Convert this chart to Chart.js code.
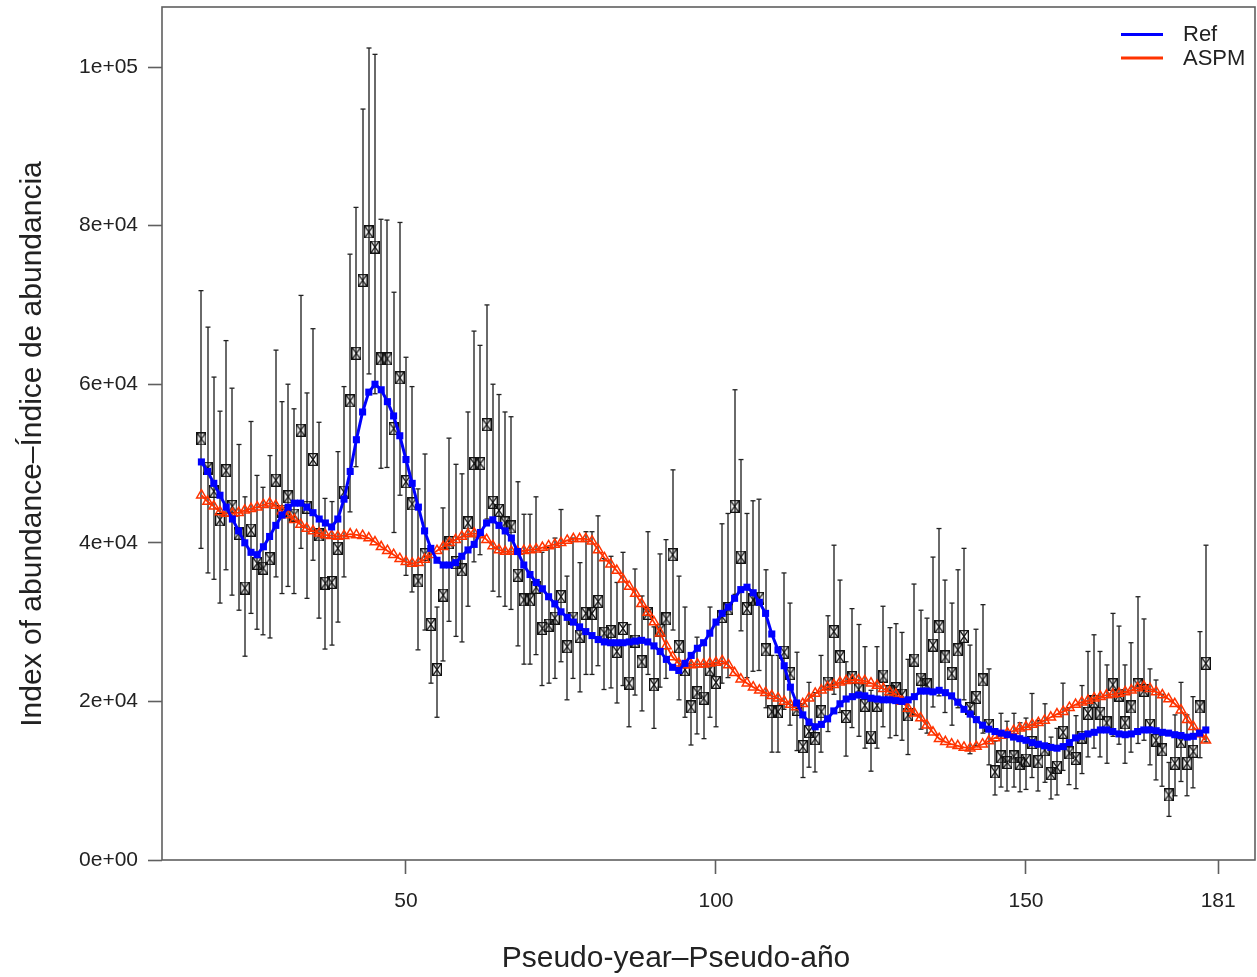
<!DOCTYPE html>
<html>
<head>
<meta charset="utf-8">
<script src="https://cdn.jsdelivr.net/npm/chart.js@4.4.0/dist/chart.umd.min.js"></script>
<style>
  html, body { margin: 0; padding: 0; background: #fff; overflow: hidden; }
  #chart { display: block; }
</style>
</head>
<body>
<canvas id="chart" width="1257" height="977"></canvas>
<script>
// values in thousands
const years = [
  17, 18, 19, 20, 21, 22, 23, 24, 25, 26,
  27, 28, 29, 30, 31, 32, 33, 34, 35, 36,
  37, 38, 39, 40, 41, 42, 43, 44, 45, 46,
  47, 48, 49, 50, 51, 52, 53, 54, 55, 56,
  57, 58, 59, 60, 61, 62, 63, 64, 65, 66,
  67, 68, 69, 70, 71, 72, 73, 74, 75, 76,
  77, 78, 79, 80, 81, 82, 83, 84, 85, 86,
  87, 88, 89, 90, 91, 92, 93, 94, 95, 96,
  97, 98, 99, 100, 101, 102, 103, 104, 105, 106,
  107, 108, 109, 110, 111, 112, 113, 114, 115, 116,
  117, 118, 119, 120, 121, 122, 123, 124, 125, 126,
  127, 128, 129, 130, 131, 132, 133, 134, 135, 136,
  137, 138, 139, 140, 141, 142, 143, 144, 145, 146,
  147, 148, 149, 150, 151, 152, 153, 154, 155, 156,
  157, 158, 159, 160, 161, 162, 163, 164, 165, 166,
  167, 168, 169, 170, 171, 172, 173, 174, 175, 176,
  177, 178, 179
];

const obs = [
  53.1, 49.4, 46.5, 42.9, 49.1, 44.6, 41.2, 34.3, 41.6, 37.4,
  36.8, 38.0, 47.9, 44.0, 45.8, 43.5, 54.2, 44.5, 50.5, 41.0,
  34.9, 35.0, 39.3, 46.4, 57.9, 63.9, 73.1, 79.2, 77.3, 63.2,
  63.2, 54.4, 60.8, 47.7, 44.9, 35.2, 38.5, 29.7, 24.0, 33.4,
  40.0, 37.5, 36.6, 42.5, 50.0, 50.0, 54.9, 45.1, 44.1, 42.5,
  42.0, 35.9, 32.8, 32.8, 34.4, 29.2, 29.6, 30.5, 33.2, 26.9,
  30.5, 28.2, 31.1, 31.1, 32.6, 28.6, 28.8, 26.3, 29.2, 22.3,
  27.6, 25.0, 31.1, 22.1, 29.0, 30.4, 38.5, 26.9, 24.0, 19.3,
  21.1, 20.4, 24.0, 22.4, 30.7, 31.7, 44.6, 38.2, 31.7, 32.8,
  33.0, 26.5, 18.7, 18.7, 26.2, 23.5, 19.0, 14.3, 16.2, 15.3,
  18.7, 22.3, 28.8, 25.6, 18.1, 23.0, 21.5, 19.5, 15.5, 19.5,
  23.2, 21.2, 21.6, 20.8, 18.3, 25.2, 22.8, 22.1, 27.1, 29.4,
  25.6, 23.5, 26.5, 28.2, 19.1, 20.5, 22.7, 17.0, 11.1, 13.0,
  12.3, 13.0, 12.2, 12.6, 14.8, 12.4, 13.9, 10.9, 11.7, 16.1,
  13.5, 12.8, 15.5, 18.5, 20.0, 18.5, 17.3, 22.1, 20.8, 17.3,
  19.3, 22.1, 21.4, 17.0, 15.1, 13.9, 8.2, 12.2, 14.9, 12.2,
  13.7, 19.3, 24.8
];

const obsHi = [
  71.8, 67.2, 60.9, 56.6, 65.5, 59.5, 52.4, 45.8, 55.3, 48.5,
  47.0, 51.0, 64.3, 57.8, 60.0, 56.9, 71.2, 58.9, 67.0, 55.2,
  45.6, 45.2, 51.5, 59.7, 76.4, 82.3, 94.7, 102.4, 101.6, 80.8,
  80.7, 71.6, 80.4, 63.4, 59.7, 46.8, 51.2, 39.5, 31.9, 44.4,
  53.2, 49.9, 48.7, 56.5, 66.7, 64.9, 70.0, 60.0, 58.7, 56.5,
  55.9, 47.7, 43.6, 43.6, 45.8, 38.8, 39.4, 40.6, 44.2, 35.8,
  40.6, 37.5, 41.4, 41.4, 43.4, 38.0, 38.3, 35.0, 38.8, 29.7,
  36.7, 33.3, 41.4, 29.4, 38.6, 40.4, 49.2, 35.8, 31.9, 25.7,
  28.1, 27.1, 31.9, 29.8, 42.4, 43.7, 59.3, 50.5, 43.7, 45.3,
  45.5, 36.6, 25.8, 25.8, 36.2, 32.4, 26.2, 19.7, 22.4, 21.1,
  25.8, 30.8, 39.7, 35.3, 25.0, 31.7, 29.7, 26.9, 21.4, 26.9,
  32.0, 29.3, 29.8, 28.7, 25.3, 34.8, 31.5, 30.5, 38.2, 41.8,
  35.3, 32.4, 36.6, 39.3, 27.1, 29.1, 32.2, 24.1, 15.0, 18.5,
  17.5, 18.5, 17.3, 17.9, 21.0, 17.6, 19.7, 15.5, 16.6, 22.3,
  19.2, 18.2, 22.0, 26.3, 28.4, 26.3, 24.6, 31.1, 29.5, 24.6,
  27.4, 33.2, 30.4, 24.1, 22.7, 20.9, 12.3, 18.3, 22.4, 18.3,
  20.6, 28.8, 39.7
];

const obsLo = [
  39.3, 36.2, 35.4, 32.4, 36.6, 33.4, 31.5, 25.7, 31.1, 29.1,
  28.4, 28.0, 35.7, 33.6, 34.5, 33.6, 39.3, 33.0, 37.8, 30.5,
  26.6, 27.1, 30.0, 35.7, 43.9, 49.6, 56.4, 61.3, 58.8, 49.4,
  49.5, 41.3, 46.0, 35.9, 33.8, 26.5, 29.0, 22.3, 18.0, 25.1,
  30.1, 28.2, 27.5, 32.0, 37.6, 38.5, 43.0, 33.9, 33.2, 32.0,
  31.6, 27.0, 24.7, 24.7, 25.9, 22.0, 22.3, 22.9, 25.0, 20.2,
  22.9, 21.2, 23.4, 23.4, 24.5, 21.5, 21.7, 19.8, 22.0, 16.8,
  20.8, 18.8, 23.4, 16.6, 21.8, 22.9, 29.0, 20.2, 18.0, 14.5,
  15.9, 15.3, 18.0, 16.8, 22.3, 23.0, 33.5, 28.9, 23.0, 23.8,
  23.9, 19.2, 13.6, 13.6, 19.0, 17.0, 13.8, 10.4, 11.7, 11.1,
  13.6, 16.2, 20.9, 18.6, 13.1, 16.7, 15.6, 14.1, 11.2, 14.1,
  16.8, 15.4, 15.7, 15.1, 13.3, 18.3, 16.5, 16.0, 19.3, 20.7,
  18.6, 17.0, 19.2, 20.2, 13.4, 14.4, 16.0, 12.0, 8.2, 9.2,
  8.7, 9.2, 8.6, 8.9, 10.4, 8.7, 9.8, 7.7, 8.2, 11.3,
  9.5, 9.0, 10.9, 13.0, 14.1, 13.0, 12.2, 15.6, 14.6, 12.2,
  13.6, 14.7, 15.1, 12.0, 10.1, 9.3, 5.5, 8.1, 9.9, 8.1,
  9.1, 12.9, 14.9
];

const refFit = [
  50.2, 49.0, 47.5, 46.0, 44.5, 43.0, 41.5, 40.0, 38.8, 38.5,
  39.5, 40.8, 42.2, 43.5, 44.5, 45.0, 45.0, 44.5, 43.8, 43.0,
  42.5, 42.0, 43.0, 45.5, 49.0, 53.0, 56.5, 59.0, 60.0, 59.3,
  57.8, 56.0, 53.5, 50.5, 47.5, 44.5, 41.5, 39.3, 37.8, 37.2,
  37.2, 37.5, 38.3, 39.1, 39.8, 41.3, 42.5, 42.9, 42.2, 41.5,
  40.6, 38.9, 37.2, 36.0, 35.0, 34.2, 33.2, 32.3, 31.3, 30.6,
  30.0, 29.4, 28.8, 28.3, 27.8, 27.5, 27.4, 27.4, 27.4, 27.5,
  27.6, 27.7, 27.5, 27.0, 26.3, 25.3, 24.3, 23.9, 24.8, 25.8,
  26.7, 27.4, 28.6, 30.0, 31.1, 31.9, 33.0, 34.1, 34.4, 33.7,
  32.5, 31.1, 28.5, 26.5, 24.5, 21.8, 19.8, 18.3, 17.4, 16.8,
  17.1, 17.8, 18.8, 19.7, 20.3, 20.6, 20.8, 20.7, 20.4, 20.3,
  20.2, 20.2, 20.1, 20.0, 20.2, 20.6, 21.3, 21.3, 21.2, 21.4,
  21.1, 20.7, 19.9, 19.0, 18.4, 17.7, 17.0, 16.5, 16.2, 16.0,
  15.8, 15.5, 15.3, 15.1, 14.8, 14.6, 14.4, 14.2, 14.1, 14.3,
  14.8, 15.4, 15.6, 15.9, 16.1, 16.4, 16.4, 16.2, 15.9, 15.8,
  15.9, 16.2, 16.4, 16.4, 16.3, 16.1, 16.0, 15.8, 15.7, 15.5,
  15.6, 16.0, 16.4
];

const aspmFit = [
  46.0, 45.2, 44.6, 43.9, 43.7, 43.7, 43.8, 44.1, 44.3, 44.5,
  44.8, 45.0, 44.7, 44.0, 43.5, 42.9, 42.3, 41.8, 41.5, 41.2,
  41.0, 40.9, 40.8, 40.9, 41.1, 41.0, 40.9, 40.6, 40.1, 39.5,
  39.0, 38.5, 38.0, 37.6, 37.4, 37.5, 37.9, 38.5, 39.0, 39.5,
  40.0, 40.4, 40.8, 41.1, 41.2, 41.0, 40.4, 39.6, 39.1, 38.9,
  38.9, 38.9, 39.0, 39.1, 39.2, 39.4, 39.6, 39.8, 40.0, 40.3,
  40.5, 40.5, 40.5, 40.2, 39.1, 38.1, 37.3, 36.5, 35.4, 34.5,
  33.6, 32.3, 31.2, 30.0, 28.6, 27.0, 25.6, 24.8, 24.6, 24.6,
  24.7, 24.7, 24.8, 24.9, 25.1, 24.6, 23.6, 22.8, 22.3, 21.8,
  21.4, 21.1, 20.7, 20.4, 20.0, 19.6, 19.3, 19.7, 20.4, 21.0,
  21.4, 21.8, 22.1, 22.4, 22.6, 22.7, 22.7, 22.6, 22.3, 22.0,
  21.6, 21.2, 20.9, 20.0, 19.1, 18.5, 17.9, 17.0, 16.1, 15.3,
  14.9, 14.6, 14.4, 14.2, 14.1, 14.3, 14.6, 15.0, 15.4, 15.7,
  16.0, 16.3, 16.6, 16.8, 17.1, 17.3, 17.6, 18.0, 18.4, 18.7,
  19.2, 19.6, 19.9, 20.1, 20.4, 20.6, 20.8, 20.9, 21.0, 21.2,
  21.4, 21.7, 21.9, 21.6, 21.2, 20.8, 20.3, 19.7, 18.9, 17.7,
  16.8, 15.9, 15.1
];

const xTicks = [50, 100, 150, 181];
const yTicks = [0, 20, 40, 60, 80, 100];
const yTickLabels = ['0e+00', '2e+04', '4e+04', '6e+04', '8e+04', '1e+05'];

const FONT = "'Liberation Sans', Arial, Helvetica, sans-serif";
const AXIS_GREY = '#5f5f5f';

// box with a cross inside, like R's pch 7
const boxMark = (() => {
  const w = 10, h = 13;
  const c = document.createElement('canvas');
  c.width = w; c.height = h;
  const g = c.getContext('2d');
  g.strokeStyle = '#111';
  g.lineWidth = 1.3;
  g.strokeRect(0.65, 0.65, w - 1.3, h - 1.3);
  g.beginPath();
  g.moveTo(1.2, 1.2); g.lineTo(w - 1.2, h - 1.2);
  g.moveTo(w - 1.2, 1.2); g.lineTo(1.2, h - 1.2);
  g.stroke();
  return c;
})();

const pts = (vals) => years.map((yr, i) => ({ x: yr, y: vals[i] }));

// vertical interval for each observation
const errorBars = {
  id: 'errorBars',
  beforeDatasetsDraw(chart) {
    const { ctx, scales: { x, y } } = chart;
    ctx.save();
    ctx.strokeStyle = '#6a6a6a';
    ctx.lineWidth = 2;
    years.forEach((yr, i) => {
      const px = Math.round(x.getPixelForValue(yr));
      const top = y.getPixelForValue(obsHi[i]);
      const bot = y.getPixelForValue(obsLo[i]);
      ctx.beginPath();
      ctx.moveTo(px, top);
      ctx.lineTo(px, bot);
      ctx.stroke();
    });
    ctx.strokeStyle = '#222';
    ctx.lineWidth = 1.3;
    years.forEach((yr, i) => {
      const px = Math.round(x.getPixelForValue(yr));
      [obsHi[i], obsLo[i]].forEach(v => {
        const py = y.getPixelForValue(v);
        ctx.beginPath();
        ctx.moveTo(px - 2.5, py);
        ctx.lineTo(px + 2.5, py);
        ctx.stroke();
      });
    });
    ctx.restore();
  }
};

// plot frame, legend and axis titles
const decorations = {
  id: 'decorations',
  afterDraw(chart) {
    const { ctx, chartArea: a } = chart;
    ctx.save();
    ctx.strokeStyle = AXIS_GREY;
    ctx.lineWidth = 1.6;
    ctx.strokeRect(a.left, a.top, a.right - a.left, a.bottom - a.top);

    // legend
    ctx.lineWidth = 3;
    ctx.strokeStyle = '#0000ff';
    ctx.beginPath(); ctx.moveTo(1121, 34.5); ctx.lineTo(1163, 34.5); ctx.stroke();
    ctx.strokeStyle = '#ff3300';
    ctx.beginPath(); ctx.moveTo(1121, 58); ctx.lineTo(1163, 58); ctx.stroke();
    ctx.fillStyle = '#222';
    ctx.font = '22px ' + FONT;
    ctx.textBaseline = 'middle';
    ctx.textAlign = 'left';
    ctx.fillText('Ref', 1183, 35);
    ctx.fillText('ASPM', 1183, 59);

    // axis titles
    ctx.font = '30px ' + FONT;
    ctx.textAlign = 'center';
    ctx.fillText('Pseudo-year\u2013Pseudo-a\u00f1o', 676, 959);
    ctx.translate(33, 444);
    ctx.rotate(-Math.PI / 2);
    ctx.fillText('Index of abundance\u2013\u00cdndice de abundancia', 0, 0);
    ctx.restore();
  }
};

new Chart(document.getElementById('chart'), {
  type: 'scatter',
  data: {
    datasets: [
      {
        label: 'Ref',
        data: pts(refFit),
        showLine: true,
        borderColor: '#0000ff',
        backgroundColor: '#0000ff',
        borderWidth: 3,
        pointStyle: 'rect',
        pointRadius: 5,
        pointBorderWidth: 0,
        order: 0
      },
      {
        label: 'ASPM',
        data: pts(aspmFit),
        showLine: true,
        borderColor: '#ff3300',
        backgroundColor: 'rgba(0,0,0,0)',
        borderWidth: 1.8,
        pointStyle: 'triangle',
        pointRadius: 5.5,
        pointBorderColor: '#ff3300',
        pointBorderWidth: 1.5,
        order: 1
      },
      {
        label: 'Observed',
        data: pts(obs),
        showLine: false,
        pointStyle: boxMark,
        pointRadius: 5,
        order: 2
      }
    ]
  },
  options: {
    responsive: false,
    animation: false,
    devicePixelRatio: 1,
    layout: { autoPadding: false, padding: { top: 7, right: 2, bottom: 0, left: 0 } },
    plugins: {
      legend: { display: false },
      tooltip: { enabled: false }
    },
    scales: {
      x: {
        type: 'linear',
        min: 10.645,
        max: 186.94,
        afterBuildTicks: (scale) => { scale.ticks = xTicks.map(v => ({ value: v })); },
        afterFit: (scale) => {
          scale.height = 117;
          scale.paddingLeft = 0;
          scale.paddingRight = 0;
        },
        border: { display: false },
        grid: {
          display: true,
          drawOnChartArea: false,
          drawTicks: true,
          tickLength: 14,
          tickColor: AXIS_GREY,
          tickWidth: 1.6
        },
        ticks: {
          autoSkip: false,
          maxRotation: 0,
          padding: 15,
          color: '#222',
          font: { family: FONT, size: 21 }
        }
      },
      y: {
        type: 'linear',
        min: 0,
        max: 107.57,
        afterBuildTicks: (scale) => { scale.ticks = yTicks.map(v => ({ value: v })); },
        afterFit: (scale) => {
          scale.width = 162;
          scale.paddingTop = 0;
          scale.paddingBottom = 0;
          scale.paddingLeft = 0;
          scale.paddingRight = 0;
        },
        border: { display: false },
        grid: {
          display: true,
          drawOnChartArea: false,
          drawTicks: true,
          tickLength: 14,
          tickColor: AXIS_GREY,
          tickWidth: 1.6
        },
        ticks: {
          autoSkip: false,
          padding: 10,
          color: '#222',
          font: { family: FONT, size: 21 },
          callback: (v) => yTickLabels[yTicks.indexOf(v)]
        }
      }
    }
  },
  plugins: [errorBars, decorations]
});
</script>
</body>
</html>
